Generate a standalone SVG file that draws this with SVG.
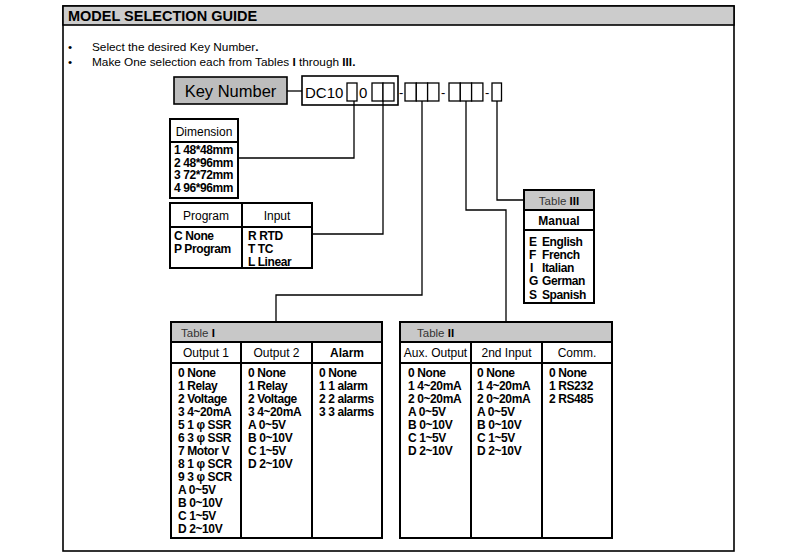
<svg xmlns="http://www.w3.org/2000/svg" width="800" height="556" viewBox="0 0 800 556">
<style>
text{font-family:"Liberation Sans",Arial,sans-serif;fill:#000}
.box{fill:#fff;stroke:#000;stroke-width:2}
.hdr{fill:#c8c8c8;stroke:#000;stroke-width:2}
.cell{fill:#fff;stroke:#000;stroke-width:1.3}
.ln{fill:none;stroke:#000;stroke-width:1.3}
.sep{stroke:#000;stroke-width:2}
.c{font-size:12px;font-weight:bold;letter-spacing:-0.4px}
.h{font-size:12px;text-anchor:middle}
.hb{font-size:12px;text-anchor:middle;font-weight:bold}
.t{font-size:11.5px;fill:#333}
.b{font-size:11.8px}
</style>
<rect x="0" y="0" width="800" height="556" fill="#fff"/>
<g id="frame">
<rect x="63" y="6" width="671" height="545" fill="#fff" stroke="#000" stroke-width="1.6"/>
<rect x="63" y="6" width="671" height="19" fill="#cccccc" stroke="#000" stroke-width="1.6"/>
<text x="68" y="21" font-size="14.5" font-weight="bold">MODEL SELECTION GUIDE</text>
<text x="68" y="51" class="b">•</text>
<text x="92" y="51" class="b">Select the desired Key Number<tspan font-weight="bold">.</tspan></text>
<text x="68" y="66" class="b">•</text>
<text x="92" y="66" class="b">Make One selection each from Tables <tspan font-weight="bold">I</tspan> through <tspan font-weight="bold">III.</tspan></text>
</g>
<g id="keynumber">
<rect x="174" y="77" width="113" height="27" fill="#bdbdbd" stroke="#000" stroke-width="1.6"/>
<text x="230.5" y="97" font-size="16.5" text-anchor="middle">Key Number</text>
</g>
<g id="code">
<rect x="302" y="76" width="96" height="29" fill="#fff" stroke="#000" stroke-width="1.6"/>
<text x="305" y="98" font-size="15">DC10</text>
<rect x="347" y="83" width="10" height="18" class="cell"/>
<text x="359" y="98" font-size="15">0</text>
<rect x="372" y="83" width="11" height="18" class="cell"/>
<rect x="383" y="83" width="11" height="18" class="cell"/>
<text x="399" y="97" font-size="13">-</text>
<rect x="405" y="83" width="11.3" height="18" class="cell"/>
<rect x="416.3" y="83" width="11.3" height="18" class="cell"/>
<rect x="427.6" y="83" width="11.3" height="18" class="cell"/>
<text x="441" y="97" font-size="13">-</text>
<rect x="449" y="83" width="11.3" height="18" class="cell"/>
<rect x="460.3" y="83" width="11.3" height="18" class="cell"/>
<rect x="471.6" y="83" width="11.3" height="18" class="cell"/>
<text x="485" y="97" font-size="13">-</text>
<rect x="492" y="83" width="9.5" height="18" class="cell"/>
</g>
<g id="connectors">
<line x1="287" y1="91" x2="302" y2="91" class="ln"/>
<polyline points="354,101 354,158 238,158" class="ln"/>
<polyline points="383,101 383,234 312,234" class="ln"/>
<polyline points="422,101 422,295 276,295 276,322" class="ln"/>
<polyline points="466,101 466,210 506,210 506,322" class="ln"/>
<polyline points="497,101 497,200 524,200" class="ln"/>
</g>
<g id="dimension">
<rect x="170" y="119" width="68" height="79" class="box"/>
<line x1="170" y1="142" x2="238" y2="142" class="sep"/>
<text x="204" y="136" class="h">Dimension</text>
<text x="174" y="154" class="c">1 48*48mm</text>
<text x="174" y="166.5" class="c">2 48*96mm</text>
<text x="174" y="179" class="c">3 72*72mm</text>
<text x="174" y="191.5" class="c">4 96*96mm</text>
</g>
<g id="program-input">
<rect x="170" y="203" width="142" height="65" class="box"/>
<line x1="170" y1="227" x2="312" y2="227" class="sep"/>
<line x1="242" y1="203" x2="242" y2="268" class="sep"/>
<text x="206" y="220" class="h">Program</text>
<text x="277" y="220" class="h">Input</text>
<text x="174" y="240" class="c">C None</text>
<text x="174" y="253" class="c">P Program</text>
<text x="248" y="240" class="c">R RTD</text>
<text x="248" y="253" class="c">T TC</text>
<text x="248" y="266" class="c">L Linear</text>
</g>
<g id="table3">
<rect x="524" y="190" width="70" height="113" class="box"/>
<rect x="524" y="190" width="70" height="20" class="hdr"/>
<line x1="524" y1="230" x2="594" y2="230" class="sep"/>
<text x="559" y="205" class="t" text-anchor="middle">Table <tspan font-weight="bold" fill="#000">III</tspan></text>
<text x="559" y="225" class="hb">Manual</text>
<text x="529" y="246" class="c">E</text><text x="542" y="246" class="c">English</text>
<text x="529" y="259" class="c">F</text><text x="542" y="259" class="c">French</text>
<text x="530" y="272" class="c">I</text><text x="542" y="272" class="c">Italian</text>
<text x="529" y="285" class="c">G</text><text x="542" y="285" class="c">German</text>
<text x="529" y="298.5" class="c">S</text><text x="542" y="298.5" class="c">Spanish</text>
</g>
<g id="table1">
<rect x="171" y="322" width="211" height="216" class="box"/>
<rect x="171" y="322" width="211" height="20" class="hdr"/>
<line x1="171" y1="363" x2="382" y2="363" class="sep"/>
<line x1="241" y1="342" x2="241" y2="538" class="sep"/>
<line x1="312" y1="342" x2="312" y2="538" class="sep"/>
<text x="181" y="337" class="t">Table <tspan font-weight="bold" fill="#000">I</tspan></text>
<text x="206" y="357" class="h">Output 1</text>
<text x="276.5" y="357" class="h">Output 2</text>
<text x="347" y="357" class="hb">Alarm</text>
<text x="178" y="377" class="c">0 None</text>
<text x="178" y="390" class="c">1 Relay</text>
<text x="178" y="403" class="c">2 Voltage</text>
<text x="178" y="416" class="c">3 4~20mA</text>
<text x="178" y="428.5" class="c">5 1 φ SSR</text>
<text x="178" y="441.5" class="c">6 3 φ SSR</text>
<text x="178" y="454.5" class="c">7 Motor V</text>
<text x="178" y="467.5" class="c">8 1 φ SCR</text>
<text x="178" y="480.5" class="c">9 3 φ SCR</text>
<text x="178" y="493.5" class="c">A 0~5V</text>
<text x="178" y="506.5" class="c">B 0~10V</text>
<text x="178" y="519.5" class="c">C 1~5V</text>
<text x="178" y="532.5" class="c">D 2~10V</text>
<text x="248" y="377" class="c">0 None</text>
<text x="248" y="390" class="c">1 Relay</text>
<text x="248" y="403" class="c">2 Voltage</text>
<text x="248" y="416" class="c">3 4~20mA</text>
<text x="248" y="428.5" class="c">A 0~5V</text>
<text x="248" y="441.5" class="c">B 0~10V</text>
<text x="248" y="454.5" class="c">C 1~5V</text>
<text x="248" y="467.5" class="c">D 2~10V</text>
<text x="319" y="377" class="c">0 None</text>
<text x="319" y="390" class="c">1 1 alarm</text>
<text x="319" y="403" class="c">2 2 alarms</text>
<text x="319" y="416" class="c">3 3 alarms</text>
</g>
<g id="table2">
<rect x="400" y="322" width="212" height="216" class="box"/>
<rect x="400" y="322" width="212" height="20" class="hdr"/>
<line x1="400" y1="363" x2="612" y2="363" class="sep"/>
<line x1="471" y1="342" x2="471" y2="538" class="sep"/>
<line x1="542" y1="342" x2="542" y2="538" class="sep"/>
<text x="417" y="337" class="t">Table <tspan font-weight="bold" fill="#000">II</tspan></text>
<text x="435.5" y="357" class="h">Aux. Output</text>
<text x="506.5" y="357" class="h">2nd Input</text>
<text x="577" y="357" class="h">Comm.</text>
<text x="408" y="377" class="c">0 None</text>
<text x="408" y="390" class="c">1 4~20mA</text>
<text x="408" y="403" class="c">2 0~20mA</text>
<text x="408" y="416" class="c">A 0~5V</text>
<text x="408" y="428.5" class="c">B 0~10V</text>
<text x="408" y="441.5" class="c">C 1~5V</text>
<text x="408" y="454.5" class="c">D 2~10V</text>
<text x="477" y="377" class="c">0 None</text>
<text x="477" y="390" class="c">1 4~20mA</text>
<text x="477" y="403" class="c">2 0~20mA</text>
<text x="477" y="416" class="c">A 0~5V</text>
<text x="477" y="428.5" class="c">B 0~10V</text>
<text x="477" y="441.5" class="c">C 1~5V</text>
<text x="477" y="454.5" class="c">D 2~10V</text>
<text x="549" y="377" class="c">0 None</text>
<text x="549" y="390" class="c">1 RS232</text>
<text x="549" y="403" class="c">2 RS485</text>
</g>
</svg>
